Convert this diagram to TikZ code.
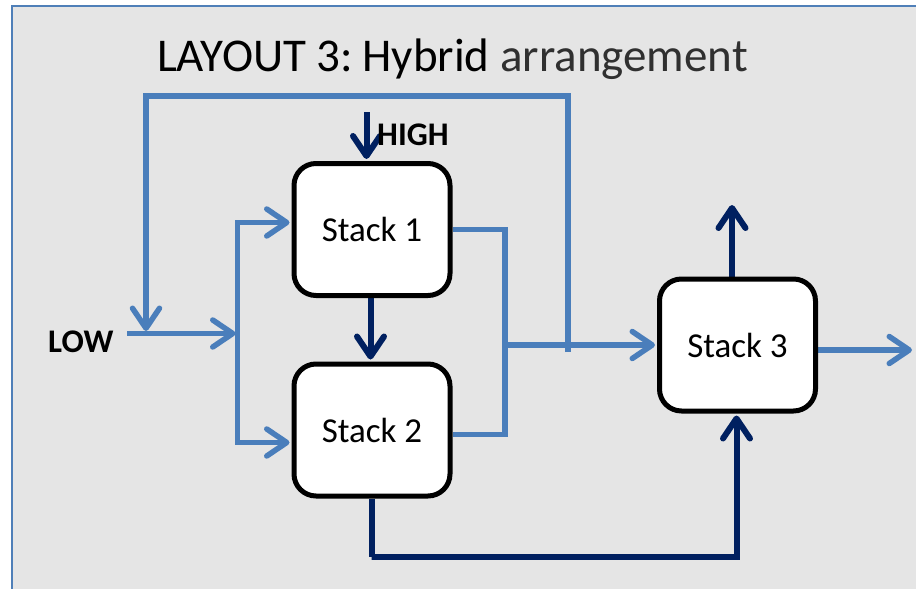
\documentclass[tikz,border=0pt]{standalone}
\usepackage{fontspec}
\setmainfont{Carlito}
\usetikzlibrary{arrows.meta,calc}
\definecolor{flowblue}{HTML}{4A7EBB}
\definecolor{navy}{HTML}{002060}
\definecolor{panel}{HTML}{E5E5E5}
\definecolor{framecol}{HTML}{4F7FB8}
\definecolor{lightink}{HTML}{303030}
\pgfdeclarelayer{bg}
\pgfsetlayers{bg,main}
\tikzset{
  stack/.style={draw=black, line width=5pt, fill=white, rounded corners=22pt,
    minimum width=156pt, minimum height=132pt, inner sep=0pt,
    font=\fontsize{35}{40}\selectfont},
  lowflow/.style={draw=flowblue, line width=5.5pt, line join=miter,
    >={Straight Barb[length=20pt,width=27pt,round]}},
  highflow/.style={draw=navy, line width=6pt, line join=miter,
    >={Straight Barb[length=20pt,width=27pt,round]}},
  tag/.style={font=\fontsize{33}{36}\selectfont\bfseries, inner sep=0pt}
}
\begin{document}
\begin{tikzpicture}[x=1pt,y=-1pt]
\useasboundingbox (0,0) rectangle (916,589);
\begin{pgfonlayer}{bg}
  \fill[white] (0,0) rectangle (916,589);
  \fill[panel] (12,6) rectangle (916,589);
  \draw[framecol, line width=2pt] (12,589) -- (12,6) -- (916,6);
\end{pgfonlayer}

% title
\node[anchor=base west, inner sep=0pt, font=\fontsize{47}{52}\selectfont] (title)
  at (157,71) {LAYOUT 3:\kern-5pt{} Hybrid {\color{lightink}arrangement}};

% stacks
\node[stack] (s1) at (372,229.5) {Stack 1};
\node[stack] (s2) at (372,430) {Stack 2};
\node[stack] (s3) at (737.5,345) {Stack 3};

% labels
\node[tag, anchor=base west] (lowlbl) at (48,352) {LOW};
\node[tag, anchor=base west] (highlbl) at (377,145) {HIGH};

% junction points
\coordinate (low) at (127,333.5);
\coordinate (dist) at (237.5,333.5);
\coordinate (recycle) at (568,352);
\coordinate (loopR) at (568,96);
\coordinate (loopL) at (146,96);
\coordinate (rejoin) at (146,331);
\coordinate (collect) at (505,229.5);
\coordinate (mix) at (505,345);
\coordinate (out) at (912,350);
\coordinate (high) at (366.5,112);
\coordinate (vent) at (732,205);
\coordinate (drain) at (371.5,557);

\begin{pgfonlayer}{bg}
  % low-grade feed and recycle loop
  \draw[lowflow,->] (recycle) -- (loopR) -- (loopL) -- (rejoin);
  \draw[lowflow,->] (low) -- ($(dist)+(-2,0)$);
  \draw[lowflow,->,shorten >=2pt] (dist) |- ($(s1.west)+(0,-7)$);
  \draw[lowflow,->,shorten >=2pt] (dist) |- ($(s2.west)+(0,12.5)$);
  % stack outputs merged and fed to stack 3
  \draw[lowflow] (s1.east) -- (collect) |- ($(s2.east)+(0,4.5)$);
  \draw[lowflow,->,shorten >=2pt] (mix) -- (s3.west);
  \draw[lowflow,->] ($(s3.east)+(0,5)$) -- (out);
  % high-grade stream
  \draw[highflow,->,shorten >=2pt] (high) -- (high |- s1.north);
  \draw[highflow,->,shorten >=2pt] ($(s1.south)+(-1.5,0)$) -- ($(s2.north)+(-1.5,0)$);
  \draw[highflow,->] (s3.north -| vent) -- (vent);
  \draw[highflow,->,shorten >=2pt] (s2.south) |- (drain) -| ($(s3.south)+(-1,0)$);
\end{pgfonlayer}
\end{tikzpicture}
\end{document}
